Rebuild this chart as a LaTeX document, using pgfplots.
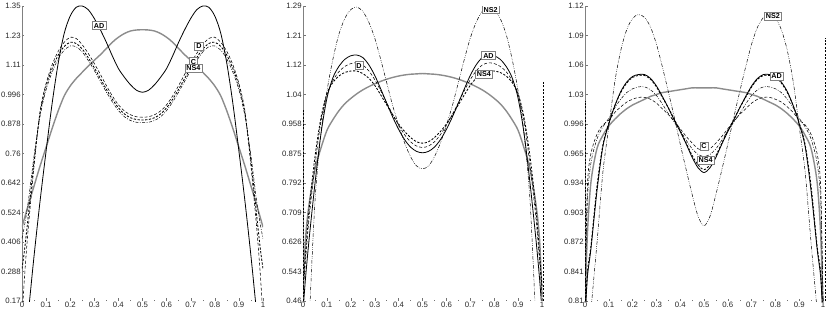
\documentclass[border=0pt]{standalone}
\usepackage{fontspec}
\setmainfont{Liberation Sans}
\usepackage{pgfplots}
\usepackage{pgfplotstable}
\pgfplotsset{compat=1.18}

\pgfplotstableread{
x AD D NS4 C G
0 -0.10 0.10 0.30 0.42 0.465
0.01 -0.02 0.26 0.37 0.47 0.50
0.025 0.11 0.45 0.50 0.56 0.55
0.05 0.35 0.71 0.73 0.75 0.63
0.075 0.57 0.93 0.92 0.91 0.71
0.1 0.77 1.04 1.03 1.015 0.785
0.125 0.96 1.115 1.10 1.085 0.86
0.15 1.12 1.168 1.153 1.138 0.93
0.175 1.24 1.205 1.188 1.173 0.99
0.2 1.31 1.225 1.205 1.19 1.03
0.225 1.345 1.22 1.20 1.187 1.06
0.25 1.35 1.195 1.178 1.166 1.085
0.275 1.335 1.16 1.143 1.132 1.11
0.3 1.30 1.12 1.103 1.092 1.133
0.325 1.255 1.077 1.06 1.049 1.155
0.35 1.205 1.032 1.017 1.006 1.18
0.375 1.15 0.99 0.977 0.966 1.205
0.4 1.10 0.955 0.943 0.932 1.225
0.425 1.065 0.93 0.918 0.907 1.24
0.45 1.035 0.915 0.903 0.892 1.25
0.475 1.013 0.907 0.896 0.885 1.254
0.5 1.005 0.905 0.894 0.883 1.255
0.525 1.013 0.907 0.896 0.885 1.254
0.55 1.035 0.915 0.903 0.892 1.25
0.575 1.065 0.93 0.918 0.907 1.24
0.6 1.10 0.955 0.943 0.932 1.225
0.625 1.15 0.99 0.977 0.966 1.205
0.65 1.205 1.032 1.017 1.006 1.18
0.675 1.255 1.077 1.06 1.049 1.155
0.7 1.30 1.12 1.103 1.092 1.133
0.725 1.335 1.16 1.143 1.132 1.11
0.75 1.35 1.195 1.178 1.166 1.085
0.775 1.345 1.22 1.20 1.187 1.06
0.8 1.31 1.225 1.205 1.19 1.03
0.825 1.24 1.205 1.188 1.173 0.99
0.85 1.12 1.168 1.153 1.138 0.93
0.875 0.96 1.115 1.10 1.085 0.86
0.9 0.77 1.04 1.03 1.015 0.785
0.925 0.57 0.93 0.92 0.91 0.71
0.95 0.35 0.71 0.73 0.75 0.63
0.975 0.11 0.45 0.50 0.56 0.55
0.99 -0.02 0.26 0.37 0.47 0.50
1 -0.10 0.10 0.30 0.42 0.465
}\tA

\pgfplotstableread{
x AD D NS4 NS2 G
0 0.43 0.48 0.50 0.04 0.47
0.01 0.52 0.57 0.59 0.18 0.63
0.025 0.63 0.69 0.715 0.39 0.73
0.05 0.79 0.84 0.865 0.74 0.83
0.075 0.93 0.965 0.975 0.93 0.89
0.1 1.03 1.04 1.043 1.05 0.94
0.125 1.088 1.08 1.075 1.14 0.97
0.15 1.12 1.105 1.093 1.21 0.995
0.175 1.14 1.12 1.103 1.255 1.015
0.2 1.15 1.128 1.107 1.28 1.03
0.225 1.152 1.13 1.107 1.287 1.043
0.25 1.145 1.124 1.10 1.275 1.054
0.275 1.125 1.108 1.087 1.245 1.063
0.3 1.095 1.083 1.067 1.20 1.071
0.325 1.057 1.052 1.04 1.14 1.078
0.35 1.017 1.018 1.012 1.075 1.084
0.375 0.978 0.985 0.984 1.01 1.089
0.4 0.943 0.955 0.958 0.955 1.093
0.425 0.914 0.928 0.937 0.905 1.096
0.45 0.893 0.908 0.92 0.866 1.098
0.475 0.881 0.896 0.908 0.84 1.099
0.5 0.877 0.892 0.904 0.832 1.10
0.525 0.881 0.896 0.908 0.84 1.099
0.55 0.893 0.908 0.92 0.866 1.098
0.575 0.914 0.928 0.937 0.905 1.096
0.6 0.943 0.955 0.958 0.955 1.093
0.625 0.978 0.985 0.984 1.01 1.089
0.65 1.017 1.018 1.012 1.075 1.084
0.675 1.057 1.052 1.04 1.14 1.078
0.7 1.095 1.083 1.067 1.20 1.071
0.725 1.125 1.108 1.087 1.245 1.063
0.75 1.145 1.124 1.10 1.275 1.054
0.775 1.152 1.13 1.107 1.287 1.043
0.8 1.15 1.128 1.107 1.28 1.03
0.825 1.14 1.12 1.103 1.255 1.015
0.85 1.12 1.105 1.093 1.21 0.995
0.875 1.088 1.08 1.075 1.14 0.97
0.9 1.03 1.04 1.043 1.05 0.94
0.925 0.93 0.965 0.975 0.93 0.89
0.95 0.79 0.84 0.865 0.74 0.83
0.975 0.63 0.69 0.715 0.39 0.73
0.99 0.52 0.57 0.59 0.18 0.63
1 0.43 0.48 0.50 0.04 0.47
}\tB

\pgfplotstableread{
x AD NS4 D C NS2 G
0 0.79 0.79 0.81 0.81 0.72 0.80
0.01 0.835 0.84 0.93 0.915 0.75 0.88
0.025 0.865 0.868 0.965 0.955 0.80 0.935
0.05 0.925 0.93 0.985 0.98 0.87 0.97
0.075 0.972 0.974 0.995 0.993 0.945 0.984
0.1 0.996 0.997 1.0 1.002 0.993 0.994
0.125 1.015 1.015 1.008 1.013 1.04 1.001
0.15 1.03 1.029 1.014 1.022 1.073 1.007
0.175 1.04 1.039 1.019 1.029 1.095 1.012
0.2 1.046 1.045 1.022 1.033 1.107 1.016
0.225 1.048 1.047 1.024 1.035 1.111 1.019
0.25 1.048 1.047 1.024 1.035 1.108 1.022
0.275 1.044 1.043 1.022 1.032 1.098 1.025
0.3 1.036 1.035 1.018 1.026 1.08 1.027
0.325 1.025 1.024 1.012 1.017 1.056 1.029
0.35 1.013 1.013 1.006 1.007 1.03 1.03
0.375 1.0 1.001 0.999 0.998 1.003 1.031
0.4 0.988 0.989 0.991 0.989 0.975 1.032
0.425 0.975 0.976 0.983 0.979 0.948 1.033
0.45 0.961 0.963 0.976 0.97 0.922 1.034
0.475 0.95 0.953 0.97 0.964 0.899 1.034
0.5 0.945 0.948 0.968 0.962 0.889 1.034
0.525 0.95 0.953 0.97 0.964 0.899 1.034
0.55 0.961 0.963 0.976 0.97 0.922 1.034
0.575 0.975 0.976 0.983 0.979 0.948 1.033
0.6 0.988 0.989 0.991 0.989 0.975 1.032
0.625 1.0 1.001 0.999 0.998 1.003 1.031
0.65 1.013 1.013 1.006 1.007 1.03 1.03
0.675 1.025 1.024 1.012 1.017 1.056 1.029
0.7 1.036 1.035 1.018 1.026 1.08 1.027
0.725 1.044 1.043 1.022 1.032 1.098 1.025
0.75 1.048 1.047 1.024 1.035 1.108 1.022
0.775 1.048 1.047 1.024 1.035 1.111 1.019
0.8 1.046 1.045 1.022 1.033 1.107 1.016
0.825 1.04 1.039 1.019 1.029 1.095 1.012
0.85 1.03 1.029 1.014 1.022 1.073 1.007
0.875 1.015 1.015 1.008 1.013 1.04 1.001
0.9 0.996 0.997 1.0 1.002 0.993 0.994
0.925 0.972 0.974 0.995 0.993 0.945 0.984
0.95 0.925 0.93 0.985 0.98 0.87 0.97
0.975 0.865 0.868 0.965 0.955 0.80 0.935
0.99 0.835 0.84 0.93 0.915 0.75 0.88
1 0.79 0.79 0.81 0.81 0.72 0.80
}\tC

\tikzset{
  lbl/.style={draw=black!50, fill=white, line width=0.6pt, inner sep=1.5pt,
    font=\fontsize{7.2}{8}\selectfont\bfseries},
}
\pgfplotsset{
  base/.style={
    scale only axis, anchor=south west,
    axis x line=bottom, axis y line=left,
    axis line style={-, black!50, line width=0.5pt},
    x axis line style={draw=none},
    tick style={black!55, line width=0.4pt},
    tick align=inside, major tick length=2.5pt, minor tick length=1.4pt,
    xtick={0,0.1,0.2,0.3,0.4,0.5,0.6,0.7,0.8,0.9,1},
    xticklabels={0,0.1,0.2,0.3,0.4,0.5,0.6,0.7,0.8,0.9,1},
    minor x tick num=1, minor y tick num=1,
    ticklabel style={font=\fontsize{7.8}{8}\selectfont, text=black!85},
    xticklabel style={inner sep=1.2pt},
    yticklabel style={inner sep=1.2pt},
    /pgf/number format/assume math mode=true,
    every axis plot/.append style={smooth, tension=0.5},
  },
  gr/.style={black!45, line width=1.4pt},
  ad/.style={black, line width=0.8pt},
  dd/.style={black, line width=0.55pt, dash pattern=on 3pt off 2pt},
  ns4/.style={black, line width=0.85pt, dash pattern=on 2.2pt off 1.6pt},
  cc/.style={black, line width=0.5pt, dash pattern=on 3pt off 1.5pt on 0.8pt off 1.5pt},
  ns2/.style={black, line width=0.5pt, dash pattern=on 3.5pt off 1.5pt on 0.6pt off 1.2pt on 0.6pt off 1.5pt},
  vl/.style={black, line width=0.5pt, dash pattern=on 2pt off 1.5pt, sharp plot},
}

\begin{document}
\begin{tikzpicture}
\path[use as bounding box] (0,0) rectangle (830pt,311pt);

\begin{axis}[base, at={(22pt,10pt)}, width=241pt, height=295pt,
  xmin=0, xmax=1, ymin=0.17, ymax=1.35,
  ytick={0.17,0.288,0.406,0.524,0.642,0.76,0.878,0.996,1.114,1.232,1.35},
  yticklabels={0.17,0.288,0.406,0.524,0.642,0.76,0.878,0.996,1.11,1.23,1.35}]
\addplot[gr] table[x=x,y=G]{\tA};
\addplot[cc] table[x=x,y=C]{\tA};
\addplot[ns4] table[x=x,y=NS4]{\tA};
\addplot[dd] table[x=x,y=D]{\tA};
\addplot[ad] table[x=x,y=AD]{\tA};
\node[lbl] at (axis cs:0.32,1.271) {AD};
\node[lbl] at (axis cs:0.734,1.19) {D};
\node[lbl] at (axis cs:0.712,1.127) {C};
\node[lbl] at (axis cs:0.711,1.10) {NS4};
\end{axis}

\begin{axis}[base, at={(303pt,10pt)}, width=241.9pt, height=295pt,
  xmin=0, xmax=1.012, ymin=0.46, ymax=1.29,
  ytick={0.46,0.543,0.626,0.709,0.792,0.875,0.958,1.041,1.124,1.207,1.29},
  yticklabels={0.46,0.543,0.626,0.709,0.792,0.875,0.958,1.04,1.12,1.21,1.29}]
\addplot[gr] table[x=x,y=G]{\tB};
\addplot[vl] coordinates {(0.003,0.46) (0.003,1.0)};
\addplot[vl] coordinates {(1.006,0.46) (1.006,1.076)};
\addplot[ns2] table[x=x,y=NS2]{\tB};
\addplot[ns4] table[x=x,y=NS4]{\tB};
\addplot[dd] table[x=x,y=D]{\tB};
\addplot[ad] table[x=x,y=AD]{\tB};
\node[lbl] at (axis cs:0.234,1.122) {D};
\node[lbl] at (axis cs:0.776,1.15) {AD};
\node[lbl] at (axis cs:0.757,1.099) {NS4};
\node[lbl] at (axis cs:0.785,1.28) {NS2};
\end{axis}

\begin{axis}[base, at={(585pt,10pt)}, width=240.9pt, height=295pt,
  xmin=0, xmax=1.012, ymin=0.81, ymax=1.12,
  ytick={0.81,0.841,0.872,0.903,0.934,0.965,0.996,1.027,1.058,1.089,1.12},
  yticklabels={0.81,0.841,0.872,0.903,0.934,0.965,0.996,1.03,1.06,1.09,1.12}]
\addplot[gr] table[x=x,y=G]{\tC};
\addplot[vl] coordinates {(0.003,0.81) (0.003,1.02)};
\addplot[vl] coordinates {(1.008,0.81) (1.008,1.086)};
\addplot[ns2] table[x=x,y=NS2]{\tC};
\addplot[cc] table[x=x,y=C]{\tC};
\addplot[dd] table[x=x,y=D]{\tC};
\addplot[ns4] table[x=x,y=NS4]{\tC};
\addplot[ad] table[x=x,y=AD]{\tC};
\node[lbl] at (axis cs:0.789,1.1096) {NS2};
\node[lbl] at (axis cs:0.805,1.0465) {AD};
\node[lbl] at (axis cs:0.5,0.9727) {C};
\node[lbl] at (axis cs:0.507,0.958) {NS4};
\end{axis}
\end{tikzpicture}
\end{document}
